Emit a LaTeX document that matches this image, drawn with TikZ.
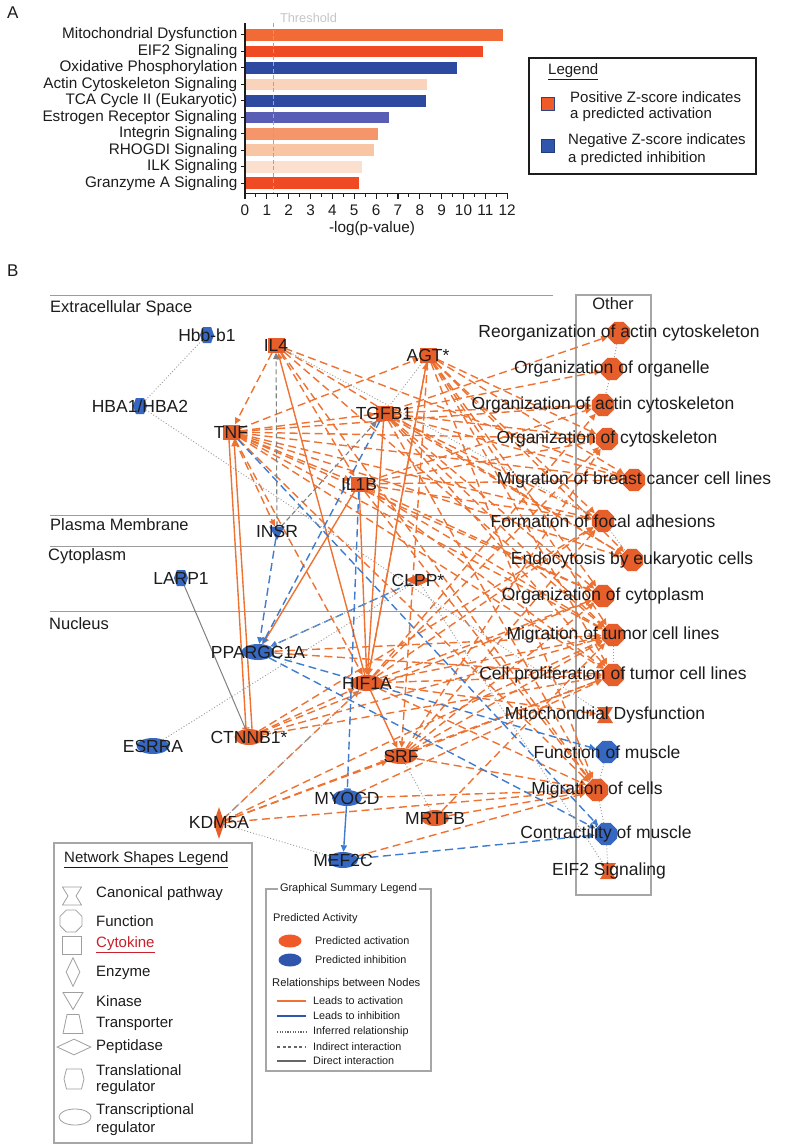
\documentclass[tikz,border=0pt]{standalone}
\usepackage{fontspec}
\setmainfont{Liberation Sans}
\usetikzlibrary{arrows.meta,shapes.geometric,shapes.symbols}

\pgfdeclarelayer{bg}
\pgfdeclarelayer{edges}
\pgfsetlayers{bg,edges,main}

% node and line colours
\definecolor{ora}{HTML}{E65E2A}
\definecolor{oraln}{HTML}{EE7232}
\definecolor{blu}{HTML}{3668C2}
\definecolor{bluln}{HTML}{3E7CD0}
\definecolor{grln}{HTML}{9C9C9C}
\definecolor{ink}{HTML}{1C1C1C}
\definecolor{cytred}{HTML}{C8202C}
% bar colours
\definecolor{barA}{HTML}{F26A35}
\definecolor{barB}{HTML}{EF4A24}
\definecolor{barC}{HTML}{2E49A0}
\definecolor{barD}{HTML}{FAD3BC}
\definecolor{barE}{HTML}{5A5DB4}
\definecolor{barF}{HTML}{F4956A}
\definecolor{barG}{HTML}{F8C5A5}
\definecolor{barH}{HTML}{FCE0CF}
\definecolor{lgOra}{HTML}{F05A28}
\definecolor{lgBlu}{HTML}{2F55AD}

\newcommand\fsz[1]{\fontsize{#1}{#1}\selectfont}

\tikzset{
  glab/.style={font=\fsz{17.5}, text=ink, inner sep=0pt},
  cyto/.style={rectangle, fill=ora, minimum width=17pt, minimum height=15pt, inner sep=0pt},
  func/.style={regular polygon, regular polygon sides=8, minimum size=24pt, inner sep=0pt, fill=ora},
  treg/.style={ellipse, minimum width=33pt, minimum height=16pt, inner sep=0pt},
  enzy/.style={diamond, minimum width=11pt, minimum height=32pt, inner sep=0pt, fill=ora},
  pept/.style={diamond, minimum width=26pt, minimum height=12pt, inner sep=0pt},
  trreg/.style={signal, signal to=east and west, signal pointer angle=140, minimum width=14pt, minimum height=16pt, inner sep=0pt},
  kin/.style={regular polygon, regular polygon sides=3, shape border rotate=180, minimum size=18pt, inner sep=0pt},
  hub/.style={inner sep=0pt, minimum size=17pt},
  tip/.style={-{Triangle[length=6.5pt,width=6pt]}},
  act/.style={draw=oraln, line width=1.4pt, dash pattern=on 8pt off 4.5pt, tip},
  acts/.style={draw=oraln, line width=1.4pt, tip},
  inhd/.style={draw=bluln, line width=1.4pt, dash pattern=on 8pt off 4.5pt, tip},
  inhs/.style={draw=bluln, line width=1.4pt, tip},
  infr/.style={draw=grln, line width=0.9pt, dash pattern=on 1pt off 2pt},
  indr/.style={draw=gray, line width=1.1pt, dash pattern=on 5pt off 3pt, tip},
  dirl/.style={draw=gray, line width=1pt},
  bartxt/.style={font=\fsz{15.3}, text=ink, inner sep=0pt},
  lgtxt/.style={font=\fsz{15}, text=ink, inner sep=0pt, anchor=west},
  gstxt/.style={font=\fsz{10.8}, text=ink, inner sep=0pt, anchor=west},
  lgicon/.style={draw=gray!75, line width=0.8pt, fill=none},
}

\begin{document}
\begin{tikzpicture}[x=1pt,y=-1pt]
\begin{pgfonlayer}{bg}
  \fill[white] (0,0) rectangle (787,1144);
\end{pgfonlayer}
\useasboundingbox (0,0) rectangle (787,1144);

% ---------------- Panel A: enrichment bar chart ----------------
\node[font=\fsz{17}, text=ink, anchor=west, inner sep=0pt] (labA) at (7,13) {A};
\def\bx{245}
\def\bu{21.85}
\foreach \v/\y/\c/\t [count=\i] in {
  11.8/34.7/barA/Mitochondrial Dysfunction,
  10.9/51.4/barB/EIF2 Signaling,
  9.7/67.9/barC/Oxidative Phosphorylation,
  8.35/84.4/barD/Actin Cytoskeleton Signaling,
  8.3/100.8/barC/TCA Cycle II (Eukaryotic),
  6.6/117.3/barE/Estrogen Receptor Signaling,
  6.1/133.8/barF/Integrin Signaling,
  5.9/150.2/barG/RHOGDI Signaling,
  5.35/166.7/barH/ILK Signaling,
  5.2/183.1/barB/Granzyme A Signaling} {
  \fill[\c] (\bx,\y-5.8) rectangle (\bx+\v*\bu,\y+5.8);
  \node[bartxt, anchor=east] (cat\i) at (237.5,\y) {\t};
  \draw[line width=1pt, ink] (\bx-4.5,\y) -- (\bx,\y);
}
% threshold
\draw[gray!70, line width=1pt, dash pattern=on 4pt off 2.5pt] (273.3,23) -- (273.3,193.5);
\node[font=\fsz{12.8}, text=gray!45, inner sep=0pt] (thr) at (308.5,18) {Threshold};
% axes
\draw[line width=1.4pt, ink] (\bx,23) -- (\bx,193.5) -- (508,193.5);
\foreach \k in {0,...,12} {
  \draw[line width=1.1pt, ink] (\bx+\k*\bu,193.5) -- ++(0,5.5);
  \node[bartxt] (tk\k) at (\bx+\k*\bu,210.5) {\k};
}
\foreach \k in {0,...,11} {
  \draw[line width=0.9pt, ink] (\bx+\k*\bu+\bu/2,193.5) -- ++(0,3.5);
}
\node[bartxt] (xlab) at (372,229) {-log(p-value)};

% legend of panel A
\draw[line width=1.5pt, ink] (529,58) rectangle (756,174);
\node[lgtxt] (lgA) at (548,72) {\underline{Legend}};
\node[draw=lgBlu!80!black, line width=0.8pt, fill=lgOra, minimum size=13pt, inner sep=0pt] (sqO) at (547.5,103.5) {};
\node[draw=lgBlu!70!black, line width=0.8pt, fill=lgBlu, minimum size=13pt, inner sep=0pt] (sqB) at (547.5,146) {};
\node[lgtxt] (pz1) at (570,97) {Positive Z-score indicates};
\node[lgtxt] (pz2) at (570,115) {a predicted activation};
\node[lgtxt] (nz1) at (568,141) {Negative Z-score indicates};
\node[lgtxt] (nz2) at (568,159) {a predicted inhibition};

% ---------------- Panel B: network ----------------
\node[font=\fsz{17}, text=ink, anchor=west, inner sep=0pt] (labB) at (7,271) {B};

\begin{pgfonlayer}{bg}
  \draw[grln, line width=1pt] (50,295) -- (553,295);
  \draw[grln, line width=1pt] (50,515) -- (553,515);
  \draw[grln, line width=1pt] (50,546) -- (553,546);
  \draw[grln, line width=1pt] (50,611) -- (553,611);
  \draw[grln!90, line width=1.1pt] (576,295) rectangle (651,895);
\end{pgfonlayer}
\node[font=\fsz{16.5}, text=ink, anchor=west, inner sep=0pt] (secE) at (50,308) {Extracellular Space};
\node[font=\fsz{16.5}, text=ink, anchor=west, inner sep=0pt] (secP) at (50,525) {Plasma Membrane};
\node[font=\fsz{16.5}, text=ink, anchor=west, inner sep=0pt] (secC) at (48,556) {Cytoplasm};
\node[font=\fsz{16.5}, text=ink, anchor=west, inner sep=0pt] (secN) at (49,624) {Nucleus};
\node[font=\fsz{16.5}, text=ink, inner sep=0pt] (secO) at (613,304) {Other};

% molecules
\node[trreg, fill=blu, label={[glab]center:Hbb-b1}] (Hbb) at (207,335) {};
\node[trreg, fill=blu, label={[glab]center:HBA1/HBA2}] (HBA) at (140,406) {};
\node[cyto, label={[glab]center:IL4}] (IL4) at (276,345) {};
\node[cyto, label={[glab]center:TNF}] (TNF) at (231,432) {};
\node[cyto, label={[glab]center:AGT*}] (AGT) at (428,355) {};
\node[cyto, label={[glab]center:TGFB1}] (TGFB1) at (384,413) {};
\node[cyto, label={[glab]center:IL1B}] (IL1B) at (359,484) {};
\node[kin, fill=blu, label={[glab]center:INSR}] (INSR) at (277,531) {};
\node[trreg, fill=blu, label={[glab]center:LARP1}] (LARP1) at (181,578) {};
\node[pept, fill=ora, label={[glab]center:CLPP*}] (CLPP) at (418,580) {};
\node[treg, fill=blu, label={[glab]center:PPARGC1A}] (PGC) at (258,652) {};
\node[treg, fill=ora, label={[glab]center:HIF1A}] (HIF) at (367,683) {};
\node[treg, fill=ora, minimum width=29pt, label={[glab]center:CTNNB1*}] (CTN) at (249,737) {};
\node[treg, fill=blu, label={[glab]center:ESRRA}] (ESRRA) at (153,746) {};
\node[treg, fill=ora, label={[glab]center:SRF}] (SRF) at (401,756) {};
\node[treg, fill=blu, minimum width=30pt, label={[glab]center:MYOCD}] (MYOCD) at (347,798) {};
\node[treg, fill=ora, minimum width=28pt, label={[glab]center:MRTFB}] (MRTFB) at (435,818) {};
\node[enzy, label={[glab]center:KDM5A}] (KDM) at (219,823) {};
\node[treg, fill=blu, minimum width=30pt, label={[glab]center:MEF2C}] (MEF) at (343,860) {};

% functions and pathways
\node[func, label={[glab]center:Reorganization of actin cytoskeleton}] (F1) at (619,333) {};
\node[func, label={[glab]center:Organization of organelle}] (F2) at (612,369) {};
\node[func, label={[glab]center:Organization of actin cytoskeleton}] (F3) at (603,405) {};
\node[func, label={[glab]center:Organization of cytoskeleton}] (F4) at (607,439) {};
\node[func, label={[glab]center:Migration of breast cancer cell lines}] (F5) at (634,480) {};
\node[func, label={[glab]center:Formation of focal adhesions}] (F6) at (603,521) {};
\node[func, label={[glab]center:Endocytosis by eukaryotic cells}] (F7) at (632,560) {};
\node[func, label={[glab]center:Organization of cytoplasm}] (F8) at (603,596) {};
\node[func, label={[glab]center:Migration of tumor cell lines}] (F9) at (613,635) {};
\node[func, label={[glab]center:Cell proliferation of tumor cell lines}] (F10) at (613,675) {};
\node[hub] (CP1) at (605,715) {};
\fill[ora, shift={(CP1)}] (-8,-8) -- (8,-8) -- (3,0) -- (8,8) -- (-8,8) -- (-3,0) -- cycle;
\node[glab] (CP1t) at (CP1) {Mitochondrial Dysfunction};
\node[func, fill=blu, label={[glab]center:Function of muscle}] (F11) at (607,752) {};
\node[func, label={[glab]center:Migration of cells}] (F12) at (597,790) {};
\node[func, fill=blu, label={[glab]center:Contractility of muscle}] (F13) at (606,834) {};
\node[hub] (CP2) at (608,871) {};
\fill[ora, shift={(CP2)}] (-8,-8) -- (8,-8) -- (3,0) -- (8,8) -- (-8,8) -- (-3,0) -- cycle;
\node[glab] (CP2t) at (609,871) {EIF2 Signaling};

% relationships
\begin{pgfonlayer}{edges}
  % indirect activation
  \foreach \s/\t in {TNF/AGT, TNF/TGFB1, TNF/F3, TNF/F4, TNF/F5, TNF/F6, TNF/F7, TNF/F8,
      TNF/F9, TNF/F10, TNF/F12, TNF/IL1B, TNF/INSR, TNF/HIF,
      IL4/TNF, IL4/IL1B, IL4/F7, IL4/F9, IL4/F12, IL4/F5,
      AGT/F4, AGT/F5, AGT/F6, AGT/F7, AGT/F8, AGT/F9, AGT/F10, AGT/F12, AGT/HIF, AGT/SRF,
      TGFB1/F1, TGFB1/F2, TGFB1/F3, TGFB1/F4, TGFB1/F5, TGFB1/F6, TGFB1/F7, TGFB1/F8,
      TGFB1/F9, TGFB1/F10, TGFB1/F12,
      IL1B/F3, IL1B/F4, IL1B/F5, IL1B/F6, IL1B/F8, IL1B/F9, IL1B/F10, IL1B/F12,
      HIF/F3, HIF/F4, HIF/F6, HIF/F8, HIF/F9, HIF/F10, HIF/CP1, HIF/F12,
      PGC/F10, PGC/F9,
      CTN/HIF, CTN/F8, CTN/F9, CTN/F10, CTN/F6,
      SRF/F4, SRF/F6, SRF/F9, SRF/F10, SRF/F12, SRF/F8,
      KDM/HIF, KDM/SRF, KDM/F10, KDM/F12, KDM/F9,
      MYOCD/F12, MYOCD/F10, MRTFB/F12, MRTFB/F9, MEF/F12}
    \draw[act] (\s) -- (\t);
  % direct activation
  \foreach \s/\t in {HIF/IL4, TGFB1/HIF, IL1B/HIF, HIF/AGT, HIF/SRF, IL1B/PGC}
    \draw[acts] (\s) -- (\t);
  \draw[acts] ([xshift=3pt]CTN.north) -- ([xshift=3pt]TNF.south);
  \draw[draw=oraln, line width=1.4pt, -{Bar[width=7pt]}] ([xshift=-2pt]TNF.south) -- ([xshift=-3pt]CTN.north);
  % inhibition
  \foreach \s/\t in {TGFB1/PGC, INSR/PGC, CLPP/PGC, TNF/F13, PGC/F11, PGC/F13, MEF/F13}
    \draw[inhd] (\s) -- (\t);
  \draw[draw=bluln, line width=1.4pt, dash pattern=on 8pt off 4.5pt, -{Bar[width=7pt]}] (IL1B) -- (MYOCD);
  \draw[inhs] (MYOCD) -- (MEF);
  % indirect and direct interactions
  \draw[indr] (INSR) -- (IL4);
  \draw[indr] (INSR) -- (TGFB1);
  \draw[dirl] (LARP1) -- (CTN);
  % inferred relationships
  \foreach \s/\t in {Hbb/HBA, HBA/CP1, IL4/F6, AGT/TGFB1, ESRRA/CLPP, KDM/MEF, KDM/HIF,
      SRF/MRTFB, PGC/CLPP, CLPP/CP2, F1/F2, F2/F3, F6/F7, F9/F10, F11/F12, F12/F13, F13/CP2}
    \draw[infr] (\s) -- (\t);
\end{pgfonlayer}

% ---------------- network shapes legend ----------------
\draw[gray!70, line width=1.3pt] (54,843) rectangle (252,1143);
\node[lgtxt] (nsl) at (64,860) {\underline{Network Shapes Legend}};
\draw[lgicon, shift={(72,896)}] (-9.5,-9) -- (9.5,-9) -- (4,0) -- (9.5,9) -- (-9.5,9) -- (-4,0) -- cycle;
\node[lgtxt] (ls1) at (96,894) {Canonical pathway};
\node[func, lgicon, minimum size=24pt] (ic2) at (71,921) {};
\node[lgtxt] (ls2) at (96,921) {Function};
\node[lgicon, rectangle, minimum width=19pt, minimum height=18pt, inner sep=0pt] (ic3) at (72,945) {};
\node[lgtxt, text=cytred] (ls3) at (96,945) {\underline{Cytokine}};
\node[lgicon, diamond, minimum width=14pt, minimum height=29pt, inner sep=0pt] (ic4) at (73,972) {};
\node[lgtxt] (ls4) at (96,973) {Enzyme};
\draw[lgicon, shift={(73,1001)}] (-10,-8.5) -- (10,-8.5) -- (0,8.5) -- cycle;
\node[lgtxt] (ls5) at (96,1001) {Kinase};
\draw[lgicon, shift={(73,1024)}] (-10,9.5) -- (10,9.5) -- (6,-9.5) -- (-6,-9.5) -- cycle;
\node[lgtxt] (ls6) at (96,1024) {Transporter};
\node[lgicon, diamond, minimum width=34pt, minimum height=16pt, inner sep=0pt] (ic7) at (74,1047) {};
\node[lgtxt] (ls7) at (96,1047) {Peptidase};
\draw[lgicon, shift={(74,1079)}] (-7.5,-10) -- (7.5,-10) -- (10,0) -- (7.5,10) -- (-7.5,10) -- (-10,0) -- cycle;
\node[lgtxt] (ls8a) at (96,1070) {Translational};
\node[lgtxt] (ls8b) at (96,1088) {regulator};
\node[lgicon, ellipse, minimum width=32pt, minimum height=16pt, inner sep=0pt] (ic9) at (75,1117) {};
\node[lgtxt] (ls9a) at (96,1111) {Transcriptional};
\node[lgtxt] (ls9b) at (96,1129) {regulator};

% ---------------- graphical summary legend ----------------
\draw[gray!70, line width=1.2pt] (266,889) rectangle (431,1071);
\node[font=\fsz{11}, text=ink, fill=white, inner sep=2pt] (gst) at (348.5,889) {Graphical Summary Legend};
\node[gstxt, font=\fsz{11}] (gsa) at (273,919) {Predicted Activity};
\node[ellipse, fill=lgOra, minimum width=23pt, minimum height=13pt, inner sep=0pt] (gsO) at (290,941) {};
\node[gstxt] (gsO2) at (315,941) {Predicted activation};
\node[ellipse, fill=lgBlu, minimum width=23pt, minimum height=13pt, inner sep=0pt] (gsB) at (290,960) {};
\node[gstxt] (gsB2) at (315,960) {Predicted inhibition};
\node[gstxt, font=\fsz{11.2}] (gsr) at (272,984) {Relationships between Nodes};
\draw[draw=oraln, line width=1.8pt] (277,1001) -- (306,1001);
\node[gstxt] (gr1) at (313,1001) {Leads to activation};
\draw[draw=lgBlu, line width=1.8pt] (277,1016) -- (306,1016);
\node[gstxt] (gr2) at (313,1016) {Leads to inhibition};
\draw[draw=gray!80!black, line width=1.4pt, dash pattern=on 1.2pt off 1.4pt] (277,1032) -- (306,1032);
\node[gstxt] (gr3) at (313,1032) {Inferred relationship};
\draw[draw=gray!80!black, line width=1.4pt, dash pattern=on 3pt off 2.5pt] (277,1047) -- (306,1047);
\node[gstxt] (gr4) at (313,1047) {Indirect interaction};
\draw[draw=gray!80!black, line width=1.6pt] (277,1061) -- (306,1061);
\node[gstxt] (gr5) at (313,1061) {Direct interaction};
\end{tikzpicture}
\end{document}
